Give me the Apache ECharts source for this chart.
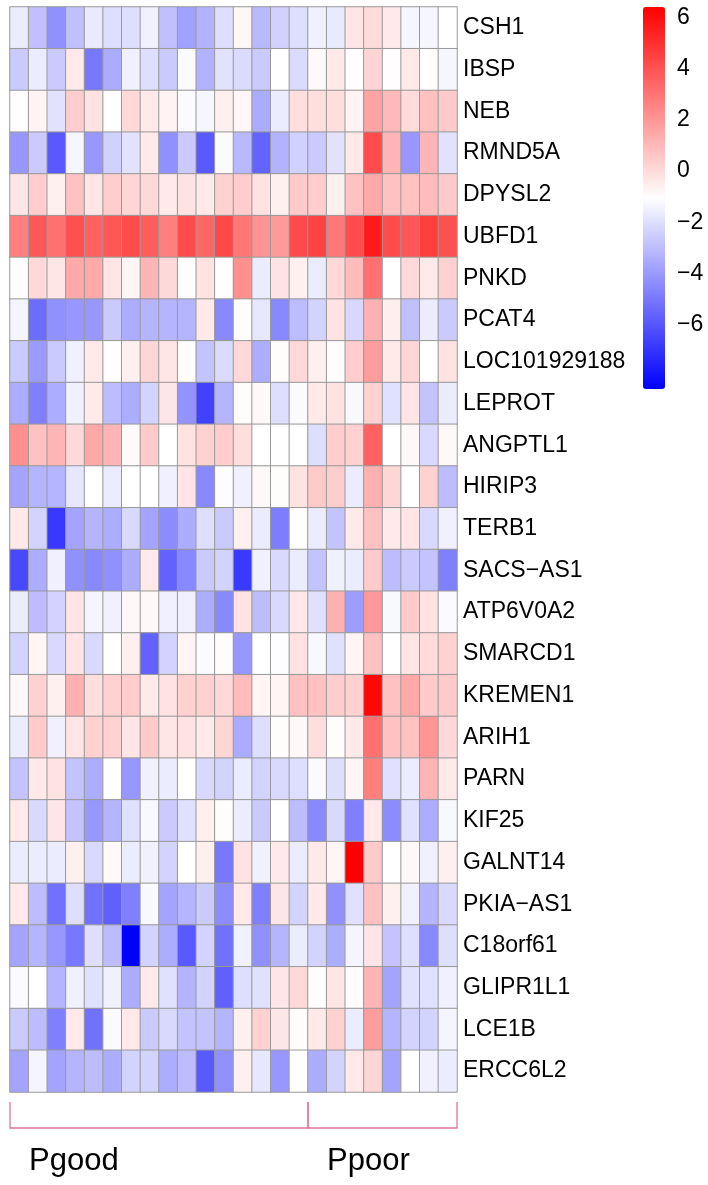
<!DOCTYPE html>
<html>
<head>
<meta charset="utf-8">
<script src="https://cdn.jsdelivr.net/npm/echarts@6/dist/echarts.min.js"></script>
<style>
  html, body { margin: 0; padding: 0; background: #fff; }
  #chart { width: 708px; height: 1185px; }
</style>
</head>
<body>
<div id="chart"></div>
<script>
const genes = ["CSH1", "IBSP", "NEB", "RMND5A", "DPYSL2", "UBFD1", "PNKD", "PCAT4",
  "LOC101929188", "LEPROT", "ANGPTL1", "HIRIP3", "TERB1", "SACS\u2212AS1", "ATP6V0A2",
  "SMARCD1", "KREMEN1", "ARIH1", "PARN", "KIF25", "GALNT14", "PKIA\u2212AS1", "C18orf61",
  "GLIPR1L1", "LCE1B", "ERCC6L2"];

const samples = [];
for (let i = 1; i <= 16; i++) samples.push("Pgood" + i);
for (let i = 1; i <= 8; i++) samples.push("Ppoor" + i);

// one row per gene, columns = samples (16 Pgood then 8 Ppoor)
const expr = [
  [-1.6, -2.9, -4.3, -2.9, -1.7, -2.0, -2.0, -1.5, -2.9, -3.8, -3.3, -2.0, -0.8, -3.1, -2.4, -2.0, -1.5, -1.7, -0.3, 0.0, -0.4, -1.3, -1.3, -1.05],
  [-2.6, -1.6, -2.6, -0.4, -5.0, -3.5, -1.5, -2.0, -2.6, -1.2, -3.3, -1.9, -2.1, -2.6, -1.05, -2.1, -0.9, -0.4, -1.0, 0.2, -1.0, -0.4, -1.0, -1.3],
  [-1.0, -0.7, -1.9, 0.4, -0.2, -1.0, 0.1, -0.4, -0.7, -1.2, -1.3, -0.6, -0.8, -3.5, -1.6, -0.1, -0.1, -0.1, -0.7, 1.6, 1.0, 0.0, 0.8, 0.5],
  [-4.1, -2.6, -5.9, -1.3, -4.1, -2.4, -1.9, -0.4, -4.3, -2.6, -5.9, -1.2, -3.1, -5.6, -3.3, -2.4, -2.6, -1.9, -0.4, 4.2, 1.1, -4.1, 1.1, -1.9],
  [-0.3, 0.4, -0.6, 0.75, -0.3, 0.4, 0.15, 0.05, -0.4, -0.2, -0.4, 0.3, 0.4, -0.2, -0.6, 0.5, 0.4, -0.6, 0.75, 1.45, 0.75, 0.75, 0.9, 0.5],
  [2.7, 3.85, 3.1, 4.05, 3.6, 3.9, 4.2, 3.7, 2.7, 4.2, 3.4, 4.3, 2.9, 2.1, 1.9, 4.2, 4.45, 2.9, 4.2, 5.6, 4.2, 3.85, 4.6, 4.05],
  [-1.0, 0.05, -0.3, 1.45, 1.45, -0.3, -0.75, 1.1, 0.05, -0.95, -0.2, -1.0, 2.2, -1.6, -0.2, -0.6, -1.6, 0.05, 0.9, 3.1, -1.05, 0.05, -0.4, 0.3],
  [-1.35, -5.35, -4.3, -4.1, -4.1, -2.6, -3.45, -3.2, -3.2, -3.2, -0.4, -4.5, -0.95, -1.75, -4.5, -3.0, -2.35, -0.2, -2.2, 1.25, -0.55, -2.9, -1.6, -2.6],
  [-2.6, -4.0, -2.6, -1.5, -0.4, -1.0, -0.6, 0.15, -0.3, -0.95, -2.8, -2.1, 0.05, -3.45, -0.95, 0.05, -0.6, -0.95, 0.4, 1.85, -0.4, 0.15, -1.05, -0.2],
  [-3.45, -4.75, -3.45, -1.5, -0.4, -3.0, -3.45, -2.35, -0.3, -4.2, -6.6, -3.2, -0.95, -0.85, -2.0, -1.2, -0.4, -0.2, -1.25, 0.3, -1.95, -0.3, -2.8, -1.6],
  [2.2, 0.75, 1.1, 0.05, 1.5, 1.1, -0.9, 0.5, -1.05, -0.2, 0.3, 0.4, -0.1, -1.05, -1.05, -1.05, -2.0, 0.4, 0.3, 3.6, -1.05, -0.85, -2.15, -0.85],
  [-3.7, -3.2, -3.2, -1.75, -1.05, -1.6, -1.05, -1.05, -1.5, -0.3, -4.5, -1.1, -1.5, -0.85, -0.95, -0.2, 0.5, 0.4, -1.6, 1.25, 0.15, -1.05, 0.3, -3.0],
  [-0.4, -2.35, -6.85, -3.7, -3.2, -3.45, -2.15, -3.7, -4.4, -3.45, -2.0, -2.6, -0.6, -1.6, -4.85, -1.05, -1.6, -2.8, -0.4, 0.75, -0.4, -0.3, -2.15, -1.5],
  [-6.4, -3.45, -1.5, -4.3, -4.5, -4.3, -3.45, -0.4, -5.65, -4.5, -2.6, -2.35, -6.8, -1.5, -2.15, -1.6, -2.8, -1.5, -1.6, 0.5, -3.0, -2.6, -2.8, -4.75],
  [-1.6, -3.0, -2.35, -0.3, -1.35, -1.5, -0.85, -0.85, -1.5, -1.5, -3.45, -4.5, -0.2, -3.0, -2.15, -0.4, -1.95, 1.25, -3.9, 1.95, -1.25, 0.5, -0.2, -1.2],
  [-2.35, -0.75, -2.15, -0.3, -2.15, -1.05, -0.6, -5.65, -2.35, -0.75, -1.2, -0.95, -4.1, -1.05, -1.1, -0.2, -1.25, -1.95, -0.75, 0.75, -1.05, -0.3, 0.0, 0.3],
  [-0.85, 0.3, -0.6, 1.25, -0.1, 0.3, 0.4, -0.4, -0.2, 0.3, 0.3, 0.05, 0.9, -0.75, -0.75, 0.75, 0.75, 0.4, 0.3, 6.2, 0.75, 1.45, 0.5, 0.5],
  [-1.6, 0.5, -1.5, -0.3, 0.3, 0.3, -0.3, 0.5, -0.3, -0.2, -0.4, 0.15, -3.5, -2.0, -0.95, -0.85, -0.1, -0.95, -0.4, 3.1, 0.75, 0.75, 2.05, 0.05],
  [-2.8, -0.4, -0.2, -2.8, -3.45, -1.05, -4.1, -1.5, -1.6, -1.05, -2.15, -2.35, -1.6, -2.35, -2.15, -2.0, -1.2, -2.0, -0.75, 2.7, -1.95, -1.6, 1.1, -0.4],
  [-0.4, -2.15, -0.3, -2.8, -4.1, -3.2, -1.95, -1.25, -2.6, -1.95, -0.6, -0.95, -1.6, -2.6, -1.05, -3.0, -4.5, -2.15, -4.75, -0.4, -4.4, -1.95, -3.45, -1.25],
  [-1.6, -1.6, -1.6, -0.6, -2.15, -0.9, -1.6, -1.5, -2.35, -1.05, -0.6, -5.0, -0.2, -1.5, -0.4, -1.6, -0.4, -0.75, 6.4, 0.5, -1.05, -0.85, -1.5, -0.6],
  [-0.4, -3.0, -5.2, -2.0, -5.2, -5.7, -4.75, -1.25, -3.7, -3.2, -2.6, -4.4, -0.4, -4.75, -0.3, -2.35, -0.4, -4.3, -1.95, 0.75, -0.6, -1.5, -3.2, -2.15],
  [-3.7, -3.2, -4.1, -5.0, -2.0, -3.0, -8.5, -2.35, -3.45, -5.9, -2.35, -5.2, -1.5, -4.3, -3.2, -1.6, -2.35, -3.45, -1.35, -0.3, -2.8, -2.0, -4.5, -2.0],
  [-1.2, -1.05, -3.2, -1.5, -1.95, -1.5, -3.45, -0.4, -1.95, -3.2, -2.35, -5.7, -2.0, -1.95, -0.3, 0.05, -0.95, -0.3, -0.95, 1.1, -3.7, -1.95, -1.95, -1.5],
  [-2.6, -3.0, -4.75, -0.4, -5.2, -1.2, -0.4, -2.6, -2.15, -2.8, -2.8, -3.2, -0.6, 0.3, -0.3, -0.95, -0.4, 0.3, -1.6, 1.85, -3.2, -2.35, -2.35, -1.35],
  [-3.7, -1.35, -3.7, -3.2, -3.0, -3.45, -2.35, -2.35, -3.45, -3.0, -5.9, -4.3, -0.6, -1.75, -4.1, -1.05, -3.45, -2.35, -0.4, 0.15, -3.7, -1.05, -1.5, -1.6]
];

const colorMin = -8.5;
const colorMax = 6.4;
const legendTicks = [-6, -4, -2, 0, 2, 4, 6];

// sample groups: [first column, last column, label]
const groups = [
  [0, 15, "Pgood"],
  [16, 23, "Ppoor"]
];

const cells = [];
expr.forEach((row, r) => row.forEach((v, c) => cells.push([c, r, v])));

const font = "'Liberation Sans', Arial, sans-serif";
const chart = echarts.init(document.getElementById("chart"));

chart.setOption({
  animation: false,
  backgroundColor: "#fff",
  textStyle: { fontFamily: font },
  grid: [
    { left: 10, top: 7, width: 447, height: 1085 },
    { left: 643, top: 7, width: 22, height: 382 },
    { left: 10, top: 1102, width: 447, height: 26 }
  ],
  xAxis: [
    { gridIndex: 0, type: "category", data: samples, show: false },
    { gridIndex: 1, type: "value", show: false, min: 0, max: 1 },
    { gridIndex: 2, type: "category", data: samples, show: false }
  ],
  yAxis: [
    {
      gridIndex: 0,
      type: "category",
      data: genes,
      inverse: true,
      position: "right",
      axisLine: { show: false },
      axisTick: { show: false },
      axisLabel: { margin: 6, fontSize: 23, color: "#000", fontFamily: font }
    },
    {
      gridIndex: 1,
      type: "value",
      min: colorMin,
      max: colorMax,
      position: "right",
      axisLine: { show: false },
      axisTick: { show: false },
      splitLine: { show: false },
      axisLabel: {
        margin: 12,
        fontSize: 23,
        color: "#000",
        fontFamily: font,
        customValues: legendTicks,
        formatter: (v) => (v < 0 ? "\u2212" + Math.abs(v) : String(v))
      }
    },
    { gridIndex: 2, type: "value", min: 0, max: 1, show: false }
  ],
  visualMap: {
    type: "continuous",
    seriesIndex: 0,
    min: colorMin,
    max: colorMax,
    left: 643,
    top: 7,
    padding: 0,
    itemWidth: 22,
    itemHeight: 382,
    calculable: false,
    text: ["", ""],
    inRange: { color: ["#0000FF", "#FFFFFF", "#FF0000"] }
  },
  series: [
    {
      type: "heatmap",
      xAxisIndex: 0,
      yAxisIndex: 0,
      data: cells,
      itemStyle: { borderColor: "#999999", borderWidth: 1 },
      emphasis: { disabled: true }
    },
    {
      type: "scatter",
      xAxisIndex: 1,
      yAxisIndex: 1,
      data: [],
      silent: true
    },
    {
      type: "custom",
      xAxisIndex: 2,
      yAxisIndex: 2,
      silent: true,
      data: groups,
      renderItem: (params, api) => {
        const bw = api.size([1, 0])[0];
        const a = api.coord([api.value(0), 1]);
        const b = api.coord([api.value(1), 0]);
        const x0 = a[0] - bw / 2;
        const x1 = b[0] + bw / 2;
        const top = a[1];
        const bottom = b[1];
        return {
          type: "group",
          children: [
            {
              type: "polyline",
              shape: { points: [[x0, top], [x0, bottom], [x1, bottom], [x1, top]] },
              style: { stroke: "#E2739C", lineWidth: 1.3, fill: null }
            },
            {
              type: "text",
              style: {
                text: api.value(2),
                x: x0 + 19,
                y: bottom + 33,
                fill: "#000",
                font: "31px " + font,
                verticalAlign: "middle"
              }
            }
          ]
        };
      }
    }
  ]
});
</script>
</body>
</html>
